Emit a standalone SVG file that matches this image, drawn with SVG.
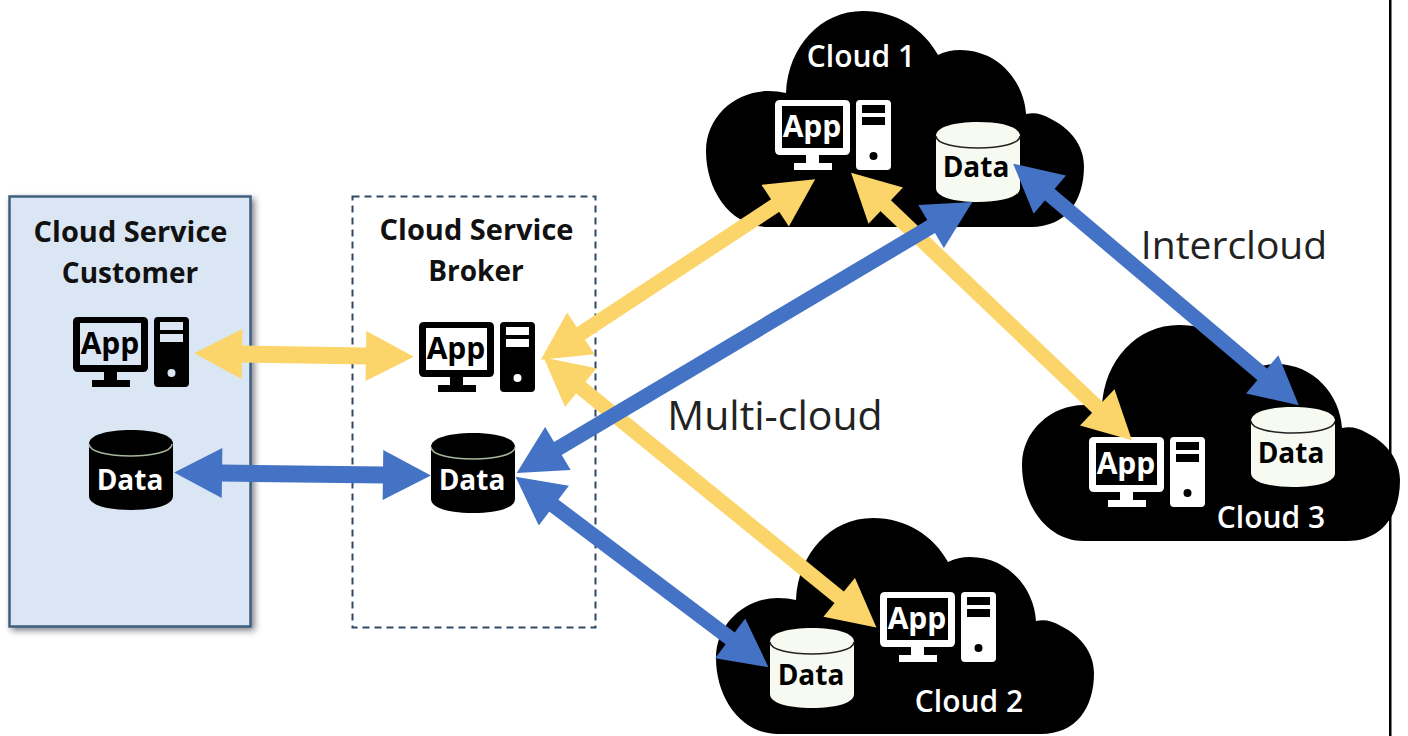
<svg xmlns="http://www.w3.org/2000/svg" width="1408" height="736" viewBox="0 0 1408 736">
<defs>
<style>
text{font-family:"Open Sans","Liberation Sans",sans-serif;text-anchor:middle}
.title{font-size:28px;font-weight:700;fill:#111}
.wide{font-size:29px}
.app{font-size:30px;font-weight:700}
.data{font-size:28px;font-weight:700}
.cl{font-size:30px;font-weight:600;fill:#fff}
.lbl{font-size:39px;fill:#222}
.k{fill:#000}.w{fill:#fff}
.y{stroke:#fcd56a;stroke-width:15;fill:none;marker-start:url(#hy);marker-end:url(#hy)}
.b{stroke:#4472c4;stroke-width:15;fill:none;marker-start:url(#hb);marker-end:url(#hb)}
.h{stroke-width:17}
</style>
<marker id="hy" markerUnits="userSpaceOnUse" markerWidth="50" markerHeight="50" refX="1" refY="24" viewBox="0 0 46 48" orient="auto-start-reverse"><path d="M0 0L46 24L0 48Z" fill="#fcd56a"/></marker>
<marker id="hb" markerUnits="userSpaceOnUse" markerWidth="50" markerHeight="50" refX="1" refY="24" viewBox="0 0 46 48" orient="auto-start-reverse"><path d="M0 0L46 24L0 48Z" fill="#4472c4"/></marker>
<filter id="sh" x="-10%" y="-5%" width="125%" height="112%"><feDropShadow dx="3" dy="3" stdDeviation="3" flood-color="#223" flood-opacity=".55"/></filter>
<path id="cloud" d="M62 216C25 216 0 180 0 140C0 105 30 80 62 80Q72 80 80 82C82 35 115 0 157 0C190 0 218 18 232 44Q242 39 254 39C292 39 318 70 320 103Q332 100 345 108C365 118 378 135 378 155C378 190 360 216 325 216Z"/>
<g id="pc"><path fill-rule="evenodd" d="M5 0H70Q75 0 75 5V50Q75 55 70 55H5Q0 55 0 50V5Q0 0 5 0ZM7 6V48H68V6Z"/><path d="M31 55H44V63H57V70H19V63H31Z"/><path fill-rule="evenodd" d="M85 0H112Q116 0 116 4V66Q116 70 112 70H85Q81 70 81 66V4Q81 0 85 0ZM87 5V13H110V5ZM87 17V25H110V17ZM98.500 52A4 4 0 1 0 98.501 60A4 4 0 1 0 98.500 52Z"/></g>
<g id="cyl"><path d="M0 14C0 5 18 0 42 0S84 5 84 14V66C84 75 66 80 42 80S0 75 0 66Z"/></g>
</defs>
<rect width="1408" height="736" fill="#fff"/>
<rect x="1389" y="0" width="2.500" height="736" fill="#000"/>
<g id="customer"><rect x="9.500" y="196.500" width="241" height="430" fill="#dae6f3" stroke="#3e5f7c" stroke-width="2.500" filter="url(#sh)"/>
<text class="title wide" x="130.500" y="242">Cloud Service</text><text class="title" x="130" y="283">Customer</text>
<use href="#pc" x="73" y="317" class="k"/><text class="app k" x="110" y="354">App</text>
<use href="#cyl" x="89" y="430" class="k"/><path d="M89 444C89 460 172 460 172 444" fill="none" stroke="#a8b89a" stroke-width="1.500"/><text class="data w" x="130" y="490">Data</text></g>
<g id="broker"><rect x="352.500" y="196.500" width="243" height="431" fill="#fff" stroke="#2f4a66" stroke-width="2" stroke-dasharray="7 5"/>
<text class="title wide" x="476.500" y="240">Cloud Service</text><text class="title" x="476" y="281">Broker</text>
<use href="#pc" x="419" y="322" class="k"/><text class="app k" x="456" y="359">App</text>
<use href="#cyl" x="431" y="433" class="k"/><path d="M431 447C431 463 515 463 515 447" fill="none" stroke="#a8b89a" stroke-width="1.500"/><text class="data w" x="472" y="490">Data</text></g>
<g id="cloud1"><use href="#cloud" x="706" y="11" class="k"/><text class="cl" x="861" y="67">Cloud 1</text>
<use href="#pc" x="775" y="100" class="w"/><text class="app w" x="812" y="137">App</text>
<use href="#cyl" x="936" y="122" fill="#f7faf0"/><path d="M936 136C936 152 1020 152 1020 136" fill="none" stroke="#222" stroke-width="1.500"/><text class="data k" x="976" y="177">Data</text></g>
<g id="cloud2"><use href="#cloud" x="716" y="518" class="k"/><text class="cl" x="969" y="712">Cloud 2</text>
<use href="#pc" x="880" y="592" class="w"/><text class="app w" x="917" y="629">App</text>
<use href="#cyl" x="770" y="628" fill="#f7faf0"/><path d="M770 642C770 658 854 658 854 642" fill="none" stroke="#222" stroke-width="1.500"/><text class="data k" x="811" y="685">Data</text></g>
<g id="cloud3"><use href="#cloud" x="1022" y="325" class="k"/><text class="cl" x="1271" y="528">Cloud 3</text>
<use href="#pc" x="1089" y="437" class="w"/><text class="app w" x="1126" y="474">App</text>
<use href="#cyl" x="1251" y="407" fill="#f7faf0"/><path d="M1251 421C1251 437 1335 437 1335 421" fill="none" stroke="#222" stroke-width="1.500"/><text class="data k" x="1291" y="463">Data</text></g>
<text class="lbl" x="1234" y="259">Intercloud</text>
<text class="lbl" x="775" y="430" style="font-size:41px">Multi-cloud</text>
<g id="connectors">
<line class="y h" x1="241" y1="354" x2="367" y2="356"/>
<line class="y" x1="580" y1="334" x2="776" y2="205"/>
<line class="y" x1="580" y1="387" x2="840" y2="598"/>
<line class="y" x1="885" y1="205" x2="1098" y2="408"/>
<line class="b h" x1="221" y1="473" x2="384" y2="475"/>
<line class="b" x1="557" y1="449" x2="932" y2="226"/>
<line class="b" x1="553" y1="505" x2="731" y2="639"/>
<line class="b" x1="1049" y1="194" x2="1263" y2="375"/>
</g>
</svg>
